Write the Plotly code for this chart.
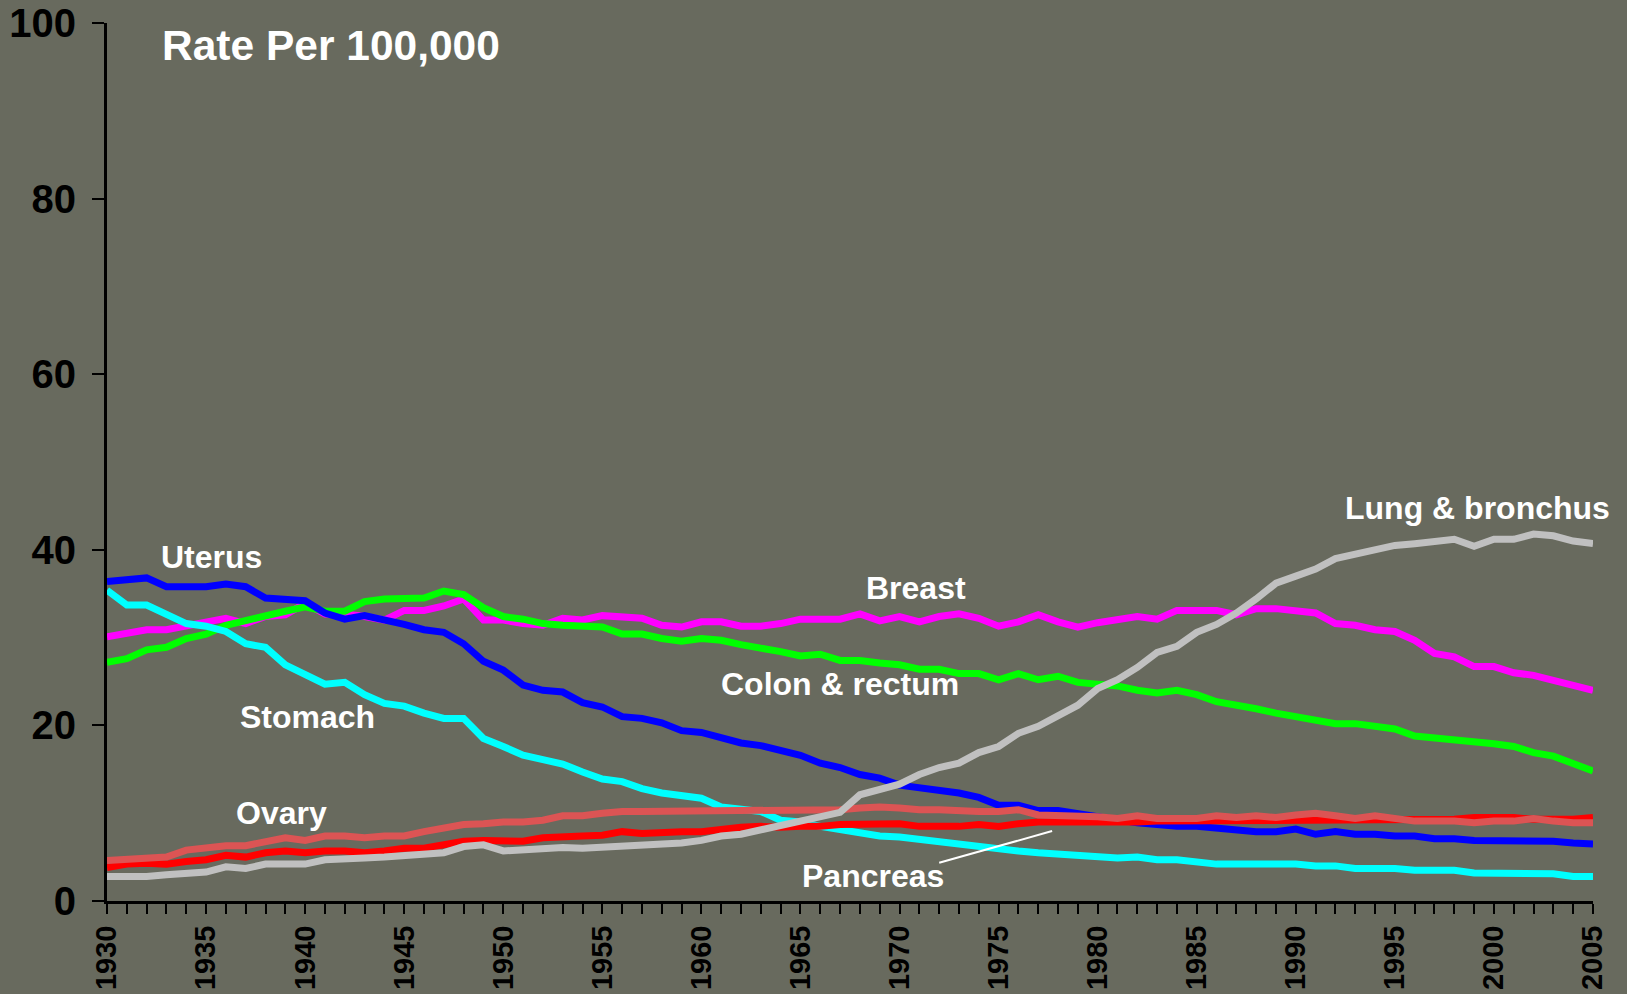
import plotly.graph_objects as go

# Female cancer death rates per 100,000, United States, 1930-2005
years = list(range(1930, 2006))

uterus = [36.4, 36.6, 36.8, 35.8, 35.8, 35.8, 36.1, 35.8, 34.5, 34.4,
          34.2, 32.8, 32.1, 32.5, 32.1, 31.5, 30.9, 30.6, 29.3, 27.3,
          26.3, 24.6, 24.0, 23.8, 22.6, 22.1, 21.0, 20.8, 20.3, 19.4,
          19.2, 18.5, 18.0, 17.7, 17.2, 16.6, 15.7, 15.2, 14.4, 14.0,
          13.2, 12.9, 12.7, 12.3, 11.8, 10.9, 10.9, 10.3, 10.3, 9.9,
          9.5, 9.2, 8.9, 8.7, 8.5, 8.5, 8.3, 8.2, 7.9, 7.9,
          8.2, 7.6, 7.9, 7.6, 7.6, 7.4, 7.4, 7.1, 7.1, 6.9,
          6.9, 6.9, 6.8, 6.8, 6.6, 6.5]

stomach = [35.4, 33.7, 33.7, 32.6, 31.6, 31.3, 30.7, 29.3, 28.9, 26.9,
           25.7, 24.7, 24.9, 23.5, 22.5, 22.2, 21.4, 20.8, 20.8, 18.5,
           17.6, 16.6, 16.1, 15.6, 14.7, 13.9, 13.6, 12.8, 12.3, 11.9,
           11.7, 10.7, 10.4, 10.2, 9.2, 9.0, 8.5, 8.1, 7.9, 7.4,
           7.3, 7.0, 6.8, 6.6, 6.3, 6.0, 5.7, 5.5, 5.4, 5.1,
           5.1, 4.9, 5.0, 4.7, 4.7, 4.5, 4.2, 4.2, 4.2, 4.2,
           4.2, 4.0, 4.0, 3.7, 3.7, 3.7, 3.5, 3.5, 3.5, 3.2,
           3.2, 3.2, 3.1, 3.1, 2.8, 2.8]

breast = [30.1, 30.6, 30.9, 30.9, 31.4, 31.7, 32.2, 31.6, 32.4, 32.6,
          33.9, 32.7, 32.7, 32.4, 32.0, 33.1, 33.1, 33.6, 34.4, 32.0,
          32.0, 31.6, 31.4, 32.2, 32.0, 32.5, 32.3, 32.2, 31.4, 31.2,
          31.8, 31.8, 31.3, 31.3, 31.6, 32.1, 32.1, 32.1, 32.7, 31.9,
          32.4, 31.8, 32.4, 32.7, 32.2, 31.3, 31.8, 32.6, 31.8, 31.2,
          31.7, 32.1, 32.4, 32.1, 33.1, 33.1, 33.1, 32.6, 33.3, 33.3,
          33.1, 32.8, 31.6, 31.4, 30.9, 30.7, 29.7, 28.2, 27.8, 26.7,
          26.7, 26.0, 25.7, 25.2, 24.5, 24.0]

colon_rectum = [27.2, 27.6, 28.6, 28.9, 29.9, 30.4, 31.4, 32.0, 32.5, 33.0,
                33.5, 33.0, 33.0, 34.1, 34.4, 34.5, 34.5, 35.3, 34.9, 33.4,
                32.4, 32.1, 31.6, 31.4, 31.4, 31.2, 30.4, 30.4, 29.9, 29.6,
                29.9, 29.7, 29.2, 28.9, 28.4, 27.9, 28.1, 27.4, 27.4, 27.1,
                26.9, 26.4, 26.4, 25.9, 25.9, 25.2, 25.9, 25.2, 25.6, 24.9,
                24.7, 24.5, 24.0, 23.7, 24.0, 23.5, 22.7, 22.4, 21.9, 21.4,
                21.0, 20.7, 20.2, 20.2, 19.8, 19.6, 18.8, 18.6, 18.4, 18.1,
                17.9, 17.6, 16.9, 16.5, 15.6, 14.8]

ovary = [4.6, 4.7, 5.0, 5.0, 5.8, 6.1, 6.3, 6.3, 6.8, 7.2,
         6.9, 7.4, 7.4, 7.2, 7.4, 7.4, 7.9, 8.4, 8.7, 8.8,
         9.0, 9.0, 9.2, 9.7, 9.7, 10.0, 10.2, 10.2, 10.2, 10.2,
         10.2, 10.2, 10.3, 10.2, 10.4, 10.4, 10.4, 10.4, 10.6, 10.7,
         10.6, 10.4, 10.4, 10.2, 10.2, 10.2, 10.4, 9.8, 9.8, 9.7,
         9.6, 9.4, 9.7, 9.4, 9.4, 9.4, 9.7, 9.5, 9.7, 9.5,
         9.8, 10.0, 9.7, 9.4, 9.7, 9.4, 9.1, 9.1, 9.1, 8.9,
         9.1, 9.1, 9.4, 9.1, 8.9, 8.9]

pancreas = [3.8, 4.2, 4.3, 4.2, 4.5, 4.7, 5.2, 5.0, 5.5, 5.7,
            5.5, 5.7, 5.7, 5.5, 5.7, 6.0, 6.0, 6.4, 6.8, 6.9,
            6.9, 6.8, 7.2, 7.2, 7.4, 7.5, 7.9, 7.7, 7.9, 7.9,
            7.9, 8.2, 8.4, 8.5, 8.4, 8.5, 8.5, 8.7, 8.8, 8.8,
            8.8, 8.5, 8.5, 8.5, 8.7, 8.5, 8.8, 9.0, 9.0, 9.0,
            9.0, 8.9, 9.0, 9.1, 9.1, 9.1, 9.1, 9.1, 9.1, 9.1,
            9.1, 9.3, 9.2, 9.2, 9.2, 9.2, 9.2, 9.1, 9.3, 9.5,
            9.5, 9.5, 9.3, 9.2, 9.3, 9.5]

lung_bronchus = [2.8, 2.8, 2.8, 3.0, 3.2, 3.3, 3.9, 3.7, 4.2, 4.2,
                 4.2, 4.7, 4.7, 4.9, 5.0, 5.2, 5.4, 5.5, 6.2, 6.4,
                 5.7, 5.9, 5.9, 6.1, 6.0, 6.1, 6.4, 6.4, 6.6, 6.6,
                 6.9, 7.4, 7.6, 8.1, 8.4, 8.9, 9.5, 10.1, 12.1, 12.6,
                 13.3, 14.4, 15.2, 15.7, 16.9, 17.6, 19.1, 19.9, 21.2, 22.3,
                 24.2, 25.2, 26.6, 28.3, 29.0, 30.6, 31.5, 32.8, 34.4, 36.2,
                 37.0, 37.8, 39.0, 39.5, 40.1, 40.5, 40.7, 40.9, 41.2, 40.4,
                 41.2, 41.2, 41.8, 41.6, 41.0, 40.7]

y_ticks = [0, 20, 40, 60, 80, 100]
x_ticks = list(range(1930, 2006, 5))

series = [
    ("Breast", breast, "#ff00ff"),
    ("Colon & rectum", colon_rectum, "#00ff00"),
    ("Uterus", uterus, "#0000ff"),
    ("Stomach", stomach, "#00ffff"),
    ("Pancreas", pancreas, "#ff0000"),
    ("Ovary", ovary, "#dc5454"),
    ("Lung & bronchus", lung_bronchus, "#c0c0c0"),
]

# Series labels: (text, left x in years, vertical centre in rate units)
labels = [
    ("Uterus", 1932.6, 39.2),
    ("Stomach", 1936.6, 21.0),
    ("Ovary", 1936.4, 10.0),
    ("Breast", 1968.2, 35.6),
    ("Colon & rectum", 1960.9, 24.7),
    ("Pancreas", 1965.0, 2.85),
    ("Lung & bronchus", 1992.4, 44.8),
]

bg = "#686a5e"
font_family = "Liberation Sans, Arial, sans-serif"

fig = go.Figure()
for name, vals, color in series:
    fig.add_trace(go.Scatter(
        x=years, y=vals, mode="lines", name=name,
        line=dict(color=color, width=7),
        hoverinfo="x+y+name",
    ))

for text, lx, ly in labels:
    fig.add_annotation(
        x=lx, y=ly, xref="x", yref="y", text=text, showarrow=False,
        xanchor="left", yanchor="middle",
        font=dict(family=font_family, size=32, color="white", weight="bold"),
    )

fig.add_annotation(
    x=1932.65, y=97.4, xref="x", yref="y", text="Rate Per 100,000",
    showarrow=False, xanchor="left", yanchor="middle",
    font=dict(family=font_family, size=42.5, color="white", weight="bold"),
)

# Leader line from the Pancreas label to its curve
fig.add_shape(type="line", xref="x", yref="y",
              x0=1972.0, y0=4.35, x1=1977.7, y1=7.97,
              line=dict(color="white", width=2))

fig.update_layout(
    width=1627, height=994,
    margin=dict(l=107, r=34, t=23, b=93, autoexpand=False),
    paper_bgcolor=bg, plot_bgcolor=bg,
    showlegend=False,
    font=dict(family=font_family, color="black"),
)

fig.update_xaxes(
    range=[1930, 2005], tickmode="array", tickvals=x_ticks,
    ticktext=[str(v) for v in x_ticks], tickangle=-90,
    showgrid=False, zeroline=False, automargin=False,
    showline=True, linecolor="black", linewidth=3,
    ticks="outside", ticklen=10, tickwidth=2, tickcolor="black",
    minor=dict(dtick=1, ticks="outside", ticklen=10, tickwidth=2,
               tickcolor="black", showgrid=False),
    tickfont=dict(family=font_family, size=29, color="black", weight="bold"),
    ticklabelstandoff=0,
)

fig.update_yaxes(
    range=[0, 100], tickmode="array", tickvals=y_ticks,
    showgrid=False, zeroline=False, automargin=False,
    showline=True, linecolor="black", linewidth=3,
    ticks="outside", ticklen=12, tickwidth=2, tickcolor="black",
    tickfont=dict(family=font_family, size=40, color="black", weight="bold"),
    ticklabelstandoff=8,
)

fig.write_html("out.html")
